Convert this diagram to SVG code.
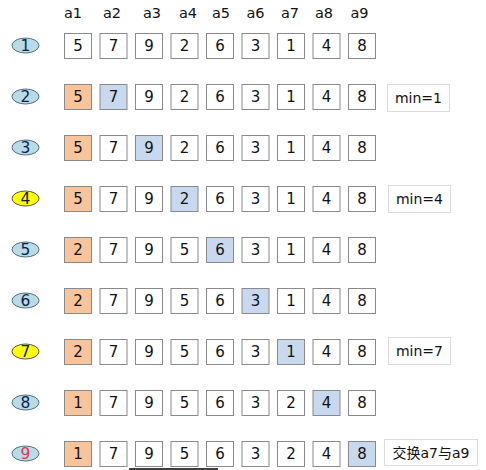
<svg xmlns="http://www.w3.org/2000/svg" width="486" height="470" viewBox="0 0 486 470">
<style>
text{font-family:"DejaVu Sans","Noto Sans CJK SC",sans-serif;fill:#111;}
.h{font-size:14.5px;text-anchor:middle;}
.c{fill:#fff;stroke:#8a8a8a;stroke-width:1;}
.o{fill:#f8c49c;stroke:#8a8a8a;stroke-width:1;}
.b{fill:#c8d9ef;stroke:#8a8a8a;stroke-width:1;}
.v{font-size:15px;text-anchor:middle;}
.eb{fill:#b9dbe6;stroke:#4f6f80;stroke-width:1;}
.ey{fill:#ffff00;stroke:#555;stroke-width:1;}
.en{font-size:15.5px;text-anchor:middle;fill:#0b1f4a;}
.lb{fill:#fff;stroke:#dcdcdc;stroke-width:1;}
.lt{font-size:14px;text-anchor:middle;}
</style>
<rect width="486" height="470" fill="#fff"/>
<g id="header">
<text class="h" x="73" y="17.5">a1</text>
<text class="h" x="112" y="17.5">a2</text>
<text class="h" x="152" y="17.5">a3</text>
<text class="h" x="188" y="17.5">a4</text>
<text class="h" x="221" y="17.5">a5</text>
<text class="h" x="255.5" y="17.5">a6</text>
<text class="h" x="290" y="17.5">a7</text>
<text class="h" x="324" y="17.5">a8</text>
<text class="h" x="359.5" y="17.5">a9</text>
</g>
<g id="connectors"></g>
<!-- Row 1 -->
<g id="row1" transform="translate(0,0)">
<g id="s1"><ellipse class="eb" cx="25.5" cy="45.5" rx="13.5" ry="7.5"/><text class="en" x="25.5" y="51">1</text></g>
<g id="r1c1"><rect class="c" x="64.5" y="33.5" width="27" height="25"/><text class="v" x="78" y="51">5</text></g>
<g id="r1c2"><rect class="c" x="100" y="33.5" width="27" height="25"/><text class="v" x="113.5" y="51">7</text></g>
<g id="r1c3"><rect class="c" x="135.5" y="33.5" width="27" height="25"/><text class="v" x="149" y="51">9</text></g>
<g id="r1c4"><rect class="c" x="171" y="33.5" width="27" height="25"/><text class="v" x="184.5" y="51">2</text></g>
<g id="r1c5"><rect class="c" x="206.5" y="33.5" width="27" height="25"/><text class="v" x="220" y="51">6</text></g>
<g id="r1c6"><rect class="c" x="242" y="33.5" width="27" height="25"/><text class="v" x="255.5" y="51">3</text></g>
<g id="r1c7"><rect class="c" x="277.5" y="33.5" width="27" height="25"/><text class="v" x="291" y="51">1</text></g>
<g id="r1c8"><rect class="c" x="313" y="33.5" width="27" height="25"/><text class="v" x="326.5" y="51">4</text></g>
<g id="r1c9"><rect class="c" x="348.5" y="33.5" width="27" height="25"/><text class="v" x="362" y="51">8</text></g>
</g>
<!-- Row 2 -->
<g id="row2" transform="translate(0,51)">
<g id="s2"><ellipse class="eb" cx="25.5" cy="45.5" rx="13.5" ry="7.5"/><text class="en" x="25.5" y="51">2</text></g>
<g id="r2c1"><rect class="o" x="64.5" y="33.5" width="27" height="25"/><text class="v" x="78" y="51">5</text></g>
<g id="r2c2"><rect class="b" x="100" y="33.5" width="27" height="25"/><text class="v" x="113.5" y="51">7</text></g>
<g id="r2c3"><rect class="c" x="135.5" y="33.5" width="27" height="25"/><text class="v" x="149" y="51">9</text></g>
<g id="r2c4"><rect class="c" x="171" y="33.5" width="27" height="25"/><text class="v" x="184.5" y="51">2</text></g>
<g id="r2c5"><rect class="c" x="206.5" y="33.5" width="27" height="25"/><text class="v" x="220" y="51">6</text></g>
<g id="r2c6"><rect class="c" x="242" y="33.5" width="27" height="25"/><text class="v" x="255.5" y="51">3</text></g>
<g id="r2c7"><rect class="c" x="277.5" y="33.5" width="27" height="25"/><text class="v" x="291" y="51">1</text></g>
<g id="r2c8"><rect class="c" x="313" y="33.5" width="27" height="25"/><text class="v" x="326.5" y="51">4</text></g>
<g id="r2c9"><rect class="c" x="348.5" y="33.5" width="27" height="25"/><text class="v" x="362" y="51">8</text></g>
<g id="note2"><rect class="lb" x="387.5" y="33.5" width="62" height="27"/><text class="lt" x="418.5" y="52">min=1</text></g>
</g>
<!-- Row 3 -->
<g id="row3" transform="translate(0,102)">
<g id="s3"><ellipse class="eb" cx="25.5" cy="45.5" rx="13.5" ry="7.5"/><text class="en" x="25.5" y="51">3</text></g>
<g id="r3c1"><rect class="o" x="64.5" y="33.5" width="27" height="25"/><text class="v" x="78" y="51">5</text></g>
<g id="r3c2"><rect class="c" x="100" y="33.5" width="27" height="25"/><text class="v" x="113.5" y="51">7</text></g>
<g id="r3c3"><rect class="b" x="135.5" y="33.5" width="27" height="25"/><text class="v" x="149" y="51">9</text></g>
<g id="r3c4"><rect class="c" x="171" y="33.5" width="27" height="25"/><text class="v" x="184.5" y="51">2</text></g>
<g id="r3c5"><rect class="c" x="206.5" y="33.5" width="27" height="25"/><text class="v" x="220" y="51">6</text></g>
<g id="r3c6"><rect class="c" x="242" y="33.5" width="27" height="25"/><text class="v" x="255.5" y="51">3</text></g>
<g id="r3c7"><rect class="c" x="277.5" y="33.5" width="27" height="25"/><text class="v" x="291" y="51">1</text></g>
<g id="r3c8"><rect class="c" x="313" y="33.5" width="27" height="25"/><text class="v" x="326.5" y="51">4</text></g>
<g id="r3c9"><rect class="c" x="348.5" y="33.5" width="27" height="25"/><text class="v" x="362" y="51">8</text></g>
</g>
<!-- Row 4 -->
<g id="row4" transform="translate(0,153)">
<g id="s4"><ellipse class="ey" cx="25.5" cy="45.5" rx="13.5" ry="7.5"/><text class="en" x="25.5" y="51">4</text></g>
<g id="r4c1"><rect class="o" x="64.5" y="33.5" width="27" height="25"/><text class="v" x="78" y="51">5</text></g>
<g id="r4c2"><rect class="c" x="100" y="33.5" width="27" height="25"/><text class="v" x="113.5" y="51">7</text></g>
<g id="r4c3"><rect class="c" x="135.5" y="33.5" width="27" height="25"/><text class="v" x="149" y="51">9</text></g>
<g id="r4c4"><rect class="b" x="171" y="33.5" width="27" height="25"/><text class="v" x="184.5" y="51">2</text></g>
<g id="r4c5"><rect class="c" x="206.5" y="33.5" width="27" height="25"/><text class="v" x="220" y="51">6</text></g>
<g id="r4c6"><rect class="c" x="242" y="33.5" width="27" height="25"/><text class="v" x="255.5" y="51">3</text></g>
<g id="r4c7"><rect class="c" x="277.5" y="33.5" width="27" height="25"/><text class="v" x="291" y="51">1</text></g>
<g id="r4c8"><rect class="c" x="313" y="33.5" width="27" height="25"/><text class="v" x="326.5" y="51">4</text></g>
<g id="r4c9"><rect class="c" x="348.5" y="33.5" width="27" height="25"/><text class="v" x="362" y="51">8</text></g>
<g id="note4"><rect class="lb" x="388.5" y="32.5" width="62" height="27"/><text class="lt" x="419.5" y="51">min=4</text></g>
</g>
<!-- Row 5 -->
<g id="row5" transform="translate(0,204)">
<g id="s5"><ellipse class="eb" cx="25.5" cy="45.5" rx="13.5" ry="7.5"/><text class="en" x="25.5" y="51">5</text></g>
<g id="r5c1"><rect class="o" x="64.5" y="33.5" width="27" height="25"/><text class="v" x="78" y="51">2</text></g>
<g id="r5c2"><rect class="c" x="100" y="33.5" width="27" height="25"/><text class="v" x="113.5" y="51">7</text></g>
<g id="r5c3"><rect class="c" x="135.5" y="33.5" width="27" height="25"/><text class="v" x="149" y="51">9</text></g>
<g id="r5c4"><rect class="c" x="171" y="33.5" width="27" height="25"/><text class="v" x="184.5" y="51">5</text></g>
<g id="r5c5"><rect class="b" x="206.5" y="33.5" width="27" height="25"/><text class="v" x="220" y="51">6</text></g>
<g id="r5c6"><rect class="c" x="242" y="33.5" width="27" height="25"/><text class="v" x="255.5" y="51">3</text></g>
<g id="r5c7"><rect class="c" x="277.5" y="33.5" width="27" height="25"/><text class="v" x="291" y="51">1</text></g>
<g id="r5c8"><rect class="c" x="313" y="33.5" width="27" height="25"/><text class="v" x="326.5" y="51">4</text></g>
<g id="r5c9"><rect class="c" x="348.5" y="33.5" width="27" height="25"/><text class="v" x="362" y="51">8</text></g>
</g>
<!-- Row 6 -->
<g id="row6" transform="translate(0,255)">
<g id="s6"><ellipse class="eb" cx="25.5" cy="45.5" rx="13.5" ry="7.5"/><text class="en" x="25.5" y="51">6</text></g>
<g id="r6c1"><rect class="o" x="64.5" y="33.5" width="27" height="25"/><text class="v" x="78" y="51">2</text></g>
<g id="r6c2"><rect class="c" x="100" y="33.5" width="27" height="25"/><text class="v" x="113.5" y="51">7</text></g>
<g id="r6c3"><rect class="c" x="135.5" y="33.5" width="27" height="25"/><text class="v" x="149" y="51">9</text></g>
<g id="r6c4"><rect class="c" x="171" y="33.5" width="27" height="25"/><text class="v" x="184.5" y="51">5</text></g>
<g id="r6c5"><rect class="c" x="206.5" y="33.5" width="27" height="25"/><text class="v" x="220" y="51">6</text></g>
<g id="r6c6"><rect class="b" x="242" y="33.5" width="27" height="25"/><text class="v" x="255.5" y="51">3</text></g>
<g id="r6c7"><rect class="c" x="277.5" y="33.5" width="27" height="25"/><text class="v" x="291" y="51">1</text></g>
<g id="r6c8"><rect class="c" x="313" y="33.5" width="27" height="25"/><text class="v" x="326.5" y="51">4</text></g>
<g id="r6c9"><rect class="c" x="348.5" y="33.5" width="27" height="25"/><text class="v" x="362" y="51">8</text></g>
</g>
<!-- Row 7 -->
<g id="row7" transform="translate(0,306)">
<g id="s7"><ellipse class="ey" cx="25.5" cy="45.5" rx="13.5" ry="7.5"/><text class="en" x="25.5" y="51">7</text></g>
<g id="r7c1"><rect class="o" x="64.5" y="33.5" width="27" height="25"/><text class="v" x="78" y="51">2</text></g>
<g id="r7c2"><rect class="c" x="100" y="33.5" width="27" height="25"/><text class="v" x="113.5" y="51">7</text></g>
<g id="r7c3"><rect class="c" x="135.5" y="33.5" width="27" height="25"/><text class="v" x="149" y="51">9</text></g>
<g id="r7c4"><rect class="c" x="171" y="33.5" width="27" height="25"/><text class="v" x="184.5" y="51">5</text></g>
<g id="r7c5"><rect class="c" x="206.5" y="33.5" width="27" height="25"/><text class="v" x="220" y="51">6</text></g>
<g id="r7c6"><rect class="c" x="242" y="33.5" width="27" height="25"/><text class="v" x="255.5" y="51">3</text></g>
<g id="r7c7"><rect class="b" x="277.5" y="33.5" width="27" height="25"/><text class="v" x="291" y="51">1</text></g>
<g id="r7c8"><rect class="c" x="313" y="33.5" width="27" height="25"/><text class="v" x="326.5" y="51">4</text></g>
<g id="r7c9"><rect class="c" x="348.5" y="33.5" width="27" height="25"/><text class="v" x="362" y="51">8</text></g>
<g id="note7"><rect class="lb" x="388.5" y="31.5" width="62" height="27"/><text class="lt" x="419.5" y="50">min=7</text></g>
</g>
<!-- Row 8 -->
<g id="row8" transform="translate(0,357)">
<g id="s8"><ellipse class="eb" cx="25.5" cy="45.5" rx="13.5" ry="7.5"/><text class="en" x="25.5" y="51">8</text></g>
<g id="r8c1"><rect class="o" x="64.5" y="33.5" width="27" height="25"/><text class="v" x="78" y="51">1</text></g>
<g id="r8c2"><rect class="c" x="100" y="33.5" width="27" height="25"/><text class="v" x="113.5" y="51">7</text></g>
<g id="r8c3"><rect class="c" x="135.5" y="33.5" width="27" height="25"/><text class="v" x="149" y="51">9</text></g>
<g id="r8c4"><rect class="c" x="171" y="33.5" width="27" height="25"/><text class="v" x="184.5" y="51">5</text></g>
<g id="r8c5"><rect class="c" x="206.5" y="33.5" width="27" height="25"/><text class="v" x="220" y="51">6</text></g>
<g id="r8c6"><rect class="c" x="242" y="33.5" width="27" height="25"/><text class="v" x="255.5" y="51">3</text></g>
<g id="r8c7"><rect class="c" x="277.5" y="33.5" width="27" height="25"/><text class="v" x="291" y="51">2</text></g>
<g id="r8c8"><rect class="b" x="313" y="33.5" width="27" height="25"/><text class="v" x="326.5" y="51">4</text></g>
<g id="r8c9"><rect class="c" x="348.5" y="33.5" width="27" height="25"/><text class="v" x="362" y="51">8</text></g>
</g>
<!-- Row 9 -->
<g id="row9" transform="translate(0,408)">
<g id="s9"><ellipse class="eb" cx="25.5" cy="45.5" rx="13.5" ry="7.5"/><text class="en" x="25.5" y="51" style="fill:#e8334f">9</text></g>
<g id="r9c1"><rect class="o" x="64.5" y="33.5" width="27" height="25"/><text class="v" x="78" y="51">1</text></g>
<g id="r9c2"><rect class="c" x="100" y="33.5" width="27" height="25"/><text class="v" x="113.5" y="51">7</text></g>
<g id="r9c3"><rect class="c" x="135.5" y="33.5" width="27" height="25"/><text class="v" x="149" y="51">9</text></g>
<g id="r9c4"><rect class="c" x="171" y="33.5" width="27" height="25"/><text class="v" x="184.5" y="51">5</text></g>
<g id="r9c5"><rect class="c" x="206.5" y="33.5" width="27" height="25"/><text class="v" x="220" y="51">6</text></g>
<g id="r9c6"><rect class="c" x="242" y="33.5" width="27" height="25"/><text class="v" x="255.5" y="51">3</text></g>
<g id="r9c7"><rect class="c" x="277.5" y="33.5" width="27" height="25"/><text class="v" x="291" y="51">2</text></g>
<g id="r9c8"><rect class="c" x="313" y="33.5" width="27" height="25"/><text class="v" x="326.5" y="51">4</text></g>
<g id="r9c9"><rect class="b" x="348.5" y="33.5" width="27" height="25"/><text class="v" x="362" y="51">8</text></g>
<g id="note9"><rect class="lb" x="384.5" y="31.5" width="93" height="26"/><text class="lt" x="431" y="50">交换a7与a9</text></g>
</g>
<line x1="129" y1="469" x2="218" y2="469" stroke="#000" stroke-width="1.5"/>
</svg>
